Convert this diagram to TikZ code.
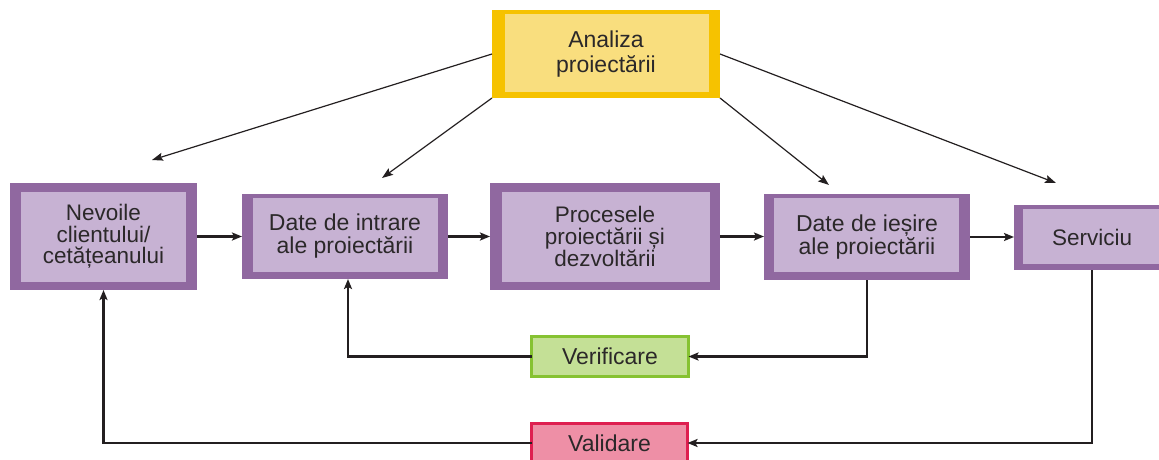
\documentclass[tikz,border=0pt]{standalone}
\usepackage{fontspec}
\setmainfont{Liberation Sans}
\usetikzlibrary{arrows.meta}

\definecolor{inkline}{RGB}{35,31,32}
\definecolor{inktext}{RGB}{43,40,41}
\definecolor{boxedge}{RGB}{144,104,160}
\definecolor{boxfill}{RGB}{199,178,211}
\definecolor{goldedge}{RGB}{246,194,0}
\definecolor{goldfill}{RGB}{249,222,126}
\definecolor{greenedge}{RGB}{134,194,50}
\definecolor{greenfill}{RGB}{196,224,150}
\definecolor{roseedge}{RGB}{222,31,80}
\definecolor{rosefill}{RGB}{238,143,166}

\begin{document}
\begin{tikzpicture}[x=1pt,y=-1pt,
  % box with a frame of unequal widths: outer colour, inner colour, left, top, right, bottom
  framed/.style n args={6}{fill=#1, inner sep=0pt, outer sep=0pt, align=center,
    text=inktext, font=\fontsize{22.5}{21.5}\selectfont,
    path picture={\fill[#2]
      ([shift={(#3pt,-#4pt)}]path picture bounding box.north west) rectangle
      ([shift={(-#5pt,#6pt)}]path picture bounding box.south east);}},
  pbox/.style n args={4}{framed={boxedge}{boxfill}{#1}{#2}{#3}{#4}},
  checkbox/.style={draw=#1edge, fill=#1fill, line width=3pt, inner sep=0pt,
    outer sep=0pt, text=inktext, font=\fontsize{23}{21}\selectfont},
  flow/.style={draw=inkline, line width=2.2pt,
    -{Stealth[length=10pt,width=8pt,inset=2pt]}},
  ray/.style={draw=inkline, line width=1.2pt,
    -{Stealth[length=11pt,width=8pt,inset=2pt]}},
]
\path[use as bounding box, clip] (0,0) rectangle (1159,460);

% top: analysis box
\node[framed={goldedge}{goldfill}{13}{4}{11}{6}, minimum width=228pt,
  minimum height=88pt, font=\fontsize{23}{25}\selectfont]
  (ana) at (606,54) {Analiza\\proiectării};

% main chain
\node[pbox={11}{9}{11}{8}, minimum width=187pt, minimum height=107pt]
  (nev) at (103.5,236.5) {Nevoile\\clientului/\\cetățeanului};
\node[pbox={11}{4}{10}{7}, minimum width=206pt, minimum height=85pt,
  font=\fontsize{23}{23}\selectfont]
  (din) at (345,236.5) {Date de intrare\\ale proiectării};
\node[pbox={12}{9}{10}{8}, minimum width=230pt, minimum height=107pt,
  font=\fontsize{22.5}{22}\selectfont]
  (pro) at (605,236.5) {Procesele\\proiectării și\\dezvoltării};
\node[pbox={10}{4}{11}{8}, minimum width=206pt, minimum height=86pt,
  font=\fontsize{23}{23}\selectfont]
  (die) at (867,237) {Date de ieșire\\ale proiectării};
\node[pbox={9}{4}{9}{6}, minimum width=156pt, minimum height=65pt]
  (ser) at (1092,237.5) {Serviciu};

% feedback boxes
\node[checkbox=green, minimum width=157pt, minimum height=40pt]
  (ver) at (610,356.5) {Verificare};
\node[checkbox=rose, minimum width=156pt, minimum height=39pt]
  (val) at (609.5,443) {Validare};

% forward flow
\draw[flow] (nev.east) -- (din.west);
\draw[flow] (din.east) -- (pro.west);
\draw[flow] (pro.east) -- (pro.east -| die.west);
\draw[flow] (die.east) -- (die.east -| ser.west);

% verification and validation loops
\draw[flow] (die.south) |- (ver.east);
\draw[flow] (ver.west) -| ([xshift=3pt]din.south);
\draw[flow] (ser.south) |- (val.east);
\draw[flow] (val.west) -| (nev.south);

% influence of the design analysis
\coordinate (t1) at (152,160);
\coordinate (t2) at (382,178);
\coordinate (t3) at (829,185);
\coordinate (t4) at (1056,183);
\draw[ray] (ana.west) -- (t1);
\draw[ray] (ana.south west) -- (t2);
\draw[ray] (ana.south east) -- (t3);
\draw[ray] (ana.east) -- (t4);
\end{tikzpicture}
\end{document}
